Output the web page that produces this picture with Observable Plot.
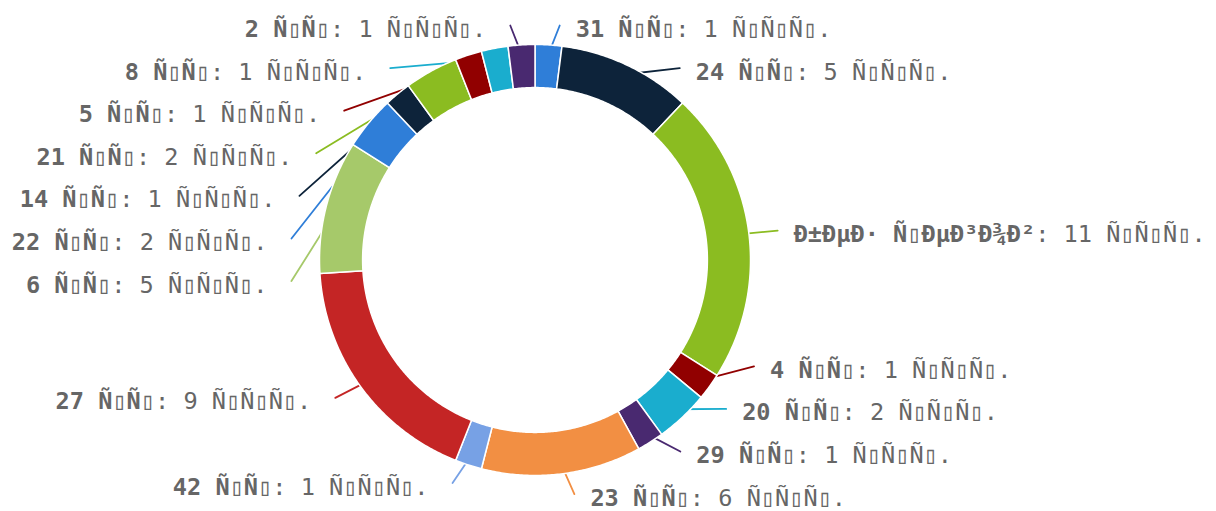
<!DOCTYPE html>
<html><head><meta charset="utf-8">
<script src="https://cdn.jsdelivr.net/npm/d3@7"></script>
<script src="https://cdn.jsdelivr.net/npm/@observablehq/plot@0.6"></script>
<style>body{margin:0;background:#fff;overflow:hidden}</style>
</head><body><div id="chart"></div>
<script>
// Category names as displayed (Cyrillic UTF-8 bytes read as Latin-1; unprintable bytes show as boxes)
const categories = [
  "31 \u00d1\u25af\u00d1\u25af", "24 \u00d1\u25af\u00d1\u25af",
  "\u00d0\u00b1\u00d0\u00b5\u00d0\u00b7 \u00d1\u25af\u00d0\u00b5\u00d0\u00b3\u00d0\u00be\u00d0\u00b2",
  "4 \u00d1\u25af\u00d1\u25af", "20 \u00d1\u25af\u00d1\u25af", "29 \u00d1\u25af\u00d1\u25af",
  "23 \u00d1\u25af\u00d1\u25af", "42 \u00d1\u25af\u00d1\u25af", "27 \u00d1\u25af\u00d1\u25af",
  "6 \u00d1\u25af\u00d1\u25af", "22 \u00d1\u25af\u00d1\u25af", "14 \u00d1\u25af\u00d1\u25af",
  "21 \u00d1\u25af\u00d1\u25af", "5 \u00d1\u25af\u00d1\u25af", "8 \u00d1\u25af\u00d1\u25af",
  "2 \u00d1\u25af\u00d1\u25af"
];
const values = [1, 5, 11, 1, 2, 1, 6, 1, 9, 5, 2, 1, 2, 1, 1, 1];
const unit = "\u00d1\u25af\u00d1\u25af\u00d1\u25af.";
const palette = ["#2f7ed8", "#0d233a", "#8bbc21", "#910000", "#1aadce",
                 "#492970", "#f28f43", "#77a1e5", "#c42525", "#a6c96a"];

const W = 1216, H = 511;
const cx = 534.5, cy = 259.5, r = 215.5, ri = r * 0.8, dist = 19, R = r + dist;
const slotH = 42.6, font = "DejaVu Sans Mono", fs = 23.6;

const total = d3.sum(values);
const P = (t, rad) => [cx + rad * Math.sin(t), cy - rad * Math.cos(t)];

// slices
let acc = 0;
const slices = values.map((v, i) => {
  const a0 = acc / total * 2 * Math.PI; acc += v;
  const a1 = acc / total * 2 * Math.PI;
  return {i, a0, a1, mid: (a0 + a1) / 2, color: palette[i % palette.length],
          label: categories[i] + ": " + v + " " + unit};
});
const slicePts = [];
for (const s of slices) {
  const n = Math.max(2, Math.ceil((s.a1 - s.a0) / (Math.PI / 360)));
  for (let k = 0; k <= n; k++) { const [x, y] = P(s.a0 + (s.a1 - s.a0) * k / n, r); slicePts.push({i: s.i, x, y, color: s.color}); }
  for (let k = n; k >= 0; k--) { const [x, y] = P(s.a0 + (s.a1 - s.a0) * k / n, ri); slicePts.push({i: s.i, x, y, color: s.color}); }
}

// label placement (slot distribution on each side)
const getX = (y, left) => cx + (left ? -1 : 1) * Math.cos(Math.asin(Math.max(-1, Math.min(1, (y - cy) / R)))) * R;
const placed = [];
for (const left of [false, true]) {
  const pts = slices.filter(s => (s.mid >= Math.PI) === left)
    .sort((a, b) => left ? b.mid - a.mid : a.mid - b.mid);
  pts.forEach(s => s.naturalY = cy - R * Math.cos(s.mid));
  const slots = [];
  for (let pos = cy - R; pos <= cy + R + 0.01; pos += slotH) slots.push(pos);
  const L = slots.length, n = pts.length, used = [];
  for (let j = 0; j < n; j++) {
    let best = 1e9, si = 0;
    for (let k = 0; k < L; k++) { const d = Math.abs(slots[k] - pts[j].naturalY); if (d < best) { best = d; si = k; } }
    if (si < j && slots[j] !== null) si = j;
    else if (L < n - j + si && slots[j] !== null) { si = L - n + j; while (slots[si] === null) si++; }
    else { while (slots[si] === null) si++; }
    used.push({i: si, y: slots[si]}); slots[si] = null;
  }
  used.sort((a, b) => a.y - b.y);
  for (let j = 0; j < n; j++) {
    const s = pts[j], slot = used[j], nat = s.naturalY;
    let y = slot.y;
    if ((nat > y && slots[slot.i + 1] !== null) || (nat < y && slots[slot.i - 1] !== null)) y = nat;
    const x = getX(slot.i === 0 || slot.i === L - 1 ? nat : y, left);
    placed.push({...s, left, lx: x, ly: y});
  }
}

// connectors: from the label straight into the slice, drawn beneath the ring
const connPts = [];
for (const p of placed) {
  const sg = p.left ? -1 : 1;
  const E = P(p.mid, r * 0.95);
  connPts.push({i: p.i, color: p.color, x: p.lx + sg * 10, y: p.ly});
  connPts.push({i: p.i, color: p.color, x: E[0], y: E[1]});
}
const textR = placed.filter(p => !p.left).map(p => ({...p, tx: p.lx + 26, ty: p.ly + 4}));
const textL = placed.filter(p => p.left).map(p => ({...p, tx: p.lx - 34, ty: p.ly + 4}));

const chart = Plot.plot({
  width: W, height: H, margin: 0,
  x: {domain: [0, W], range: [0, W], axis: null},
  y: {domain: [0, H], range: [0, H], axis: null},
  color: {type: "identity"},
  style: {background: "white"},
  marks: [
    Plot.line(connPts, {x: "x", y: "y", z: "i", stroke: "color", strokeWidth: 1.8, curve: "linear"}),
    Plot.line(slicePts, {x: "x", y: "y", z: "i", fill: "color", stroke: "white", strokeWidth: 1.5, strokeLinejoin: "round", curve: "linear-closed"}),
    Plot.text(textR, {x: "tx", y: "ty", text: "label", textAnchor: "start", fontFamily: font, fontSize: fs, fill: "#666666"}),
    Plot.text(textL, {x: "tx", y: "ty", text: "label", textAnchor: "end", fontFamily: font, fontSize: fs, fill: "#666666"})
  ]
});
// bold category name, normal value
chart.querySelectorAll('g[aria-label="text"] text').forEach(t => {
  const s = t.textContent, k = s.lastIndexOf(": ");
  if (k < 0) return;
  t.textContent = "";
  const a = document.createElementNS("http://www.w3.org/2000/svg", "tspan");
  a.setAttribute("font-weight", "bold"); a.textContent = s.slice(0, k);
  const b = document.createElementNS("http://www.w3.org/2000/svg", "tspan");
  b.textContent = s.slice(k);
  t.append(a, b);
});
document.getElementById("chart").append(chart);
</script></body></html>
